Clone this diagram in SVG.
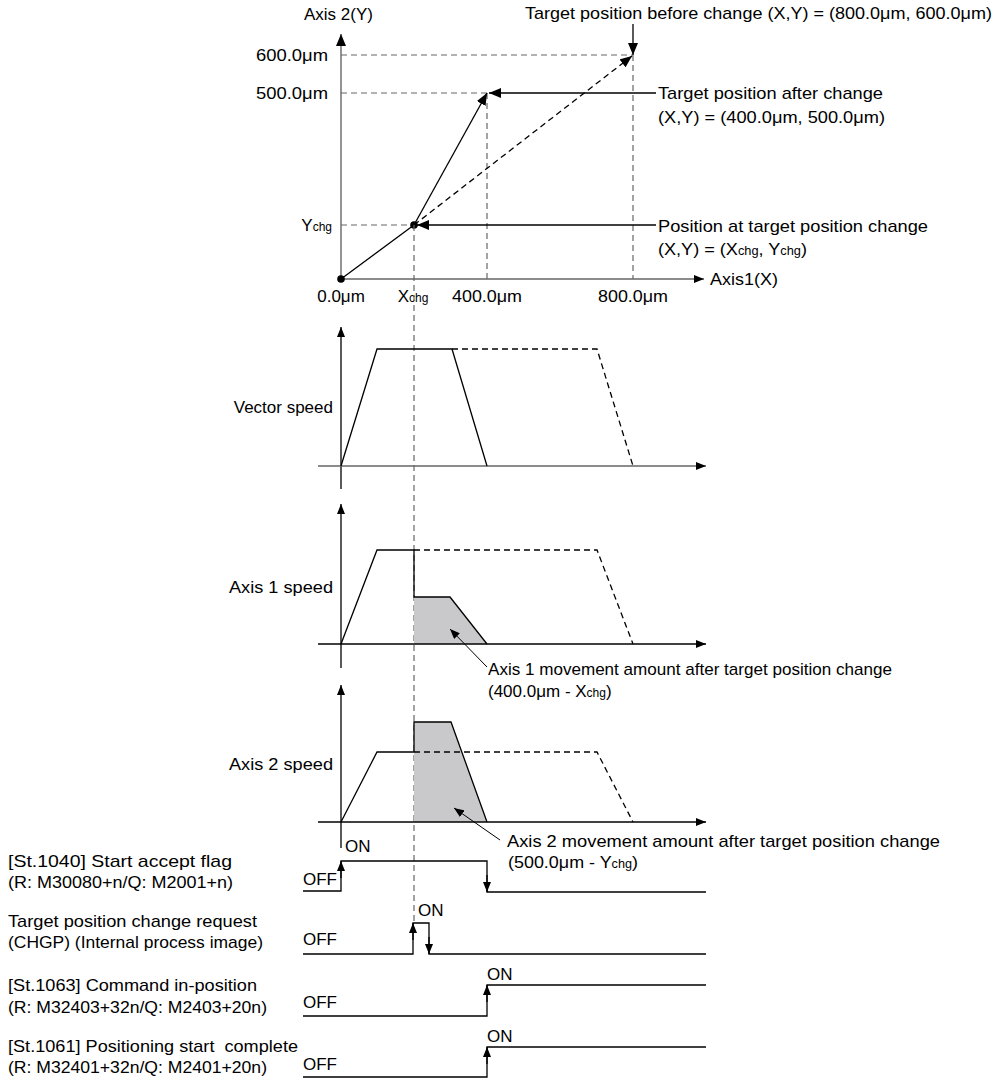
<svg xmlns="http://www.w3.org/2000/svg" width="998" height="1083" viewBox="0 0 998 1083">
<style>
text{font-family:"Liberation Sans",Arial,sans-serif;font-size:17px;fill:#000}
.r{text-anchor:end}
.m{text-anchor:middle}
.s{font-size:12px}
.ln{stroke:#000;stroke-width:1.3;fill:none}
.ax{stroke:#666;stroke-width:1.4;fill:none}
.axk{stroke:#000;stroke-width:1.3;fill:none}
.gd{stroke:#666;stroke-width:1.2;stroke-dasharray:6,4;fill:none}
.dd{stroke:#000;stroke-width:1.3;stroke-dasharray:6,4;fill:none}
.co{stroke:#000;stroke-width:1;fill:none}
.sh{fill:#c9c9cb;stroke:none}
</style>
<defs>
<marker id="ah" viewBox="0 0 12 10" refX="12" refY="5" markerWidth="12" markerHeight="10" markerUnits="userSpaceOnUse" orient="auto"><path d="M0,0 L12,5 L0,10 z" fill="#000"/></marker>
<marker id="as" viewBox="0 0 10 8" refX="10" refY="4" markerWidth="10" markerHeight="8" markerUnits="userSpaceOnUse" orient="auto"><path d="M0,0 L10,4 L0,8 z" fill="#000"/></marker>
</defs>

<g id="position-graph">
<line class="gd" x1="341" y1="55" x2="633" y2="55"/>
<line class="gd" x1="341" y1="93" x2="487" y2="93"/>
<line class="gd" x1="341" y1="225" x2="414" y2="225"/>
<line class="gd" x1="487" y1="93" x2="487" y2="279"/>
<line class="gd" x1="633" y1="55" x2="633" y2="279"/>
<line class="ax" x1="341" y1="279" x2="341" y2="34" marker-end="url(#ah)"/>
<line class="ax" x1="341" y1="279" x2="704" y2="279" marker-end="url(#as)"/>
<polyline class="ln" points="341,279 414,225"/>
<line class="ln" x1="414" y1="225" x2="487" y2="93" marker-end="url(#ah)"/>
<line class="dd" x1="414" y1="225" x2="632" y2="56" marker-end="url(#ah)"/>
<circle cx="341" cy="279" r="3.8" fill="#000"/>
<circle cx="414" cy="225" r="3.8" fill="#000"/>
<text x="304" y="20">Axis 2(Y)</text>
<text class="r" x="328" y="61" textLength="72" lengthAdjust="spacingAndGlyphs">600.0μm</text>
<text class="r" x="328" y="99" textLength="72" lengthAdjust="spacingAndGlyphs">500.0μm</text>
<text class="r" x="332" y="231">Y<tspan class="s">chg</tspan></text>
<text class="m" x="341" y="302">0.0μm</text>
<text class="m" x="413" y="302">X<tspan class="s">chg</tspan></text>
<text class="m" x="487" y="302" textLength="70" lengthAdjust="spacingAndGlyphs">400.0μm</text>
<text class="m" x="633" y="302" textLength="70" lengthAdjust="spacingAndGlyphs">800.0μm</text>
<text x="710" y="285" textLength="68" lengthAdjust="spacingAndGlyphs">Axis1(X)</text>
</g>

<g id="callouts-top">
<line class="ln" x1="633" y1="24" x2="633" y2="55" marker-end="url(#ah)"/>
<text x="525" y="19" textLength="467" lengthAdjust="spacingAndGlyphs">Target position before change (X,Y) = (800.0μm, 600.0μm)</text>
<line class="ln" x1="656" y1="93" x2="489" y2="93" marker-end="url(#ah)"/>
<text x="658" y="99" textLength="225" lengthAdjust="spacingAndGlyphs">Target position after change</text>
<text x="658" y="123" textLength="227" lengthAdjust="spacingAndGlyphs">(X,Y) = (400.0μm, 500.0μm)</text>
<line class="ln" x1="656" y1="225" x2="417" y2="225" marker-end="url(#ah)"/>
<text x="658" y="232" textLength="270" lengthAdjust="spacingAndGlyphs">Position at target position change</text>
<text x="658" y="255" textLength="149" lengthAdjust="spacingAndGlyphs">(X,Y) = (X<tspan class="s">chg</tspan>, Y<tspan class="s">chg</tspan>)</text>
</g>

<g id="connectors">
<line class="gd" x1="414" y1="225" x2="414" y2="923"/>
</g>

<g id="vector-speed">
<line class="axk" x1="341" y1="489" x2="341" y2="327" marker-end="url(#as)"/>
<line class="ax" x1="318" y1="466" x2="706" y2="466" marker-end="url(#as)"/>
<polyline class="ln" points="341,466 377,349 452,349 487,466"/>
<polyline class="dd" points="452,349 597,349 633,466"/>
<text class="r" x="333" y="413">Vector speed</text>
</g>

<g id="axis1-speed">
<polygon class="sh" points="414,597 450,597 487,644 414,644"/>
<line class="axk" x1="341" y1="668" x2="341" y2="504" marker-end="url(#as)"/>
<line class="axk" x1="318" y1="644" x2="706" y2="644" marker-end="url(#as)"/>
<polyline class="ln" points="341,644 377,550 414,550 414,597 450,597 487,644"/>
<polyline class="dd" points="414,550 597,550 633,644"/>
<text class="r" x="333" y="593" textLength="104" lengthAdjust="spacingAndGlyphs">Axis 1 speed</text>
<line class="co" x1="487" y1="667" x2="450" y2="629" marker-end="url(#as)"/>
<text x="488" y="675" textLength="404" lengthAdjust="spacingAndGlyphs">Axis 1 movement amount after target position change</text>
<text x="488" y="697">(400.0μm - X<tspan class="s">chg</tspan>)</text>
</g>

<g id="axis2-speed">
<polygon class="sh" points="414,722 451,722 487,822 414,822"/>
<line class="axk" x1="341" y1="848" x2="341" y2="685" marker-end="url(#as)"/>
<line class="axk" x1="318" y1="822" x2="706" y2="822" marker-end="url(#as)"/>
<polyline class="ln" points="341,822 377,752 414,752"/>
<polyline class="ln" points="414,752 414,722 451,722 487,822"/>
<polyline class="dd" points="414,752 597,752 633,822"/>
<text class="r" x="333" y="770" textLength="104" lengthAdjust="spacingAndGlyphs">Axis 2 speed</text>
<line class="co" x1="500" y1="840" x2="454" y2="808" marker-end="url(#as)"/>
<text x="507" y="847" textLength="433" lengthAdjust="spacingAndGlyphs">Axis 2 movement amount after target position change</text>
<text x="508" y="868" textLength="130" lengthAdjust="spacingAndGlyphs">(500.0μm - Y<tspan class="s">chg</tspan>)</text>
</g>

<g id="st1040">
<text x="8" y="867" textLength="224" lengthAdjust="spacingAndGlyphs">[St.1040] Start accept flag</text>
<text x="8" y="888" textLength="225" lengthAdjust="spacingAndGlyphs">(R: M30080+n/Q: M2001+n)</text>
<polyline class="ln" points="303,891 341,891 341,861 487,861 487,892 706,892"/>
<line class="ln" x1="341" y1="878" x2="341" y2="861" marker-end="url(#as)"/>
<line class="ln" x1="487" y1="875" x2="487" y2="892" marker-end="url(#as)"/>
<text x="345" y="852">ON</text>
<text x="303" y="885">OFF</text>
</g>

<g id="chgp">
<text x="8" y="927" textLength="249" lengthAdjust="spacingAndGlyphs">Target position change request</text>
<text x="8" y="948" textLength="255" lengthAdjust="spacingAndGlyphs">(CHGP) (Internal process image)</text>
<polyline class="ln" points="303,954 413,954 413,923 429,923 429,954 706,954"/>
<line class="ln" x1="413" y1="940" x2="413" y2="923" marker-end="url(#as)"/>
<line class="ln" x1="429" y1="937" x2="429" y2="954" marker-end="url(#as)"/>
<text x="418" y="916">ON</text>
<text x="303" y="945">OFF</text>
</g>

<g id="st1063">
<text x="8" y="991" textLength="249" lengthAdjust="spacingAndGlyphs">[St.1063] Command in-position</text>
<text x="8" y="1013" textLength="259" lengthAdjust="spacingAndGlyphs">(R: M32403+32n/Q: M2403+20n)</text>
<polyline class="ln" points="303,1016 487,1016 487,985 706,985"/>
<line class="ln" x1="487" y1="1002" x2="487" y2="985" marker-end="url(#as)"/>
<text x="487" y="980">ON</text>
<text x="303" y="1008">OFF</text>
</g>

<g id="st1061">
<text x="8" y="1052" xml:space="preserve" textLength="290" lengthAdjust="spacingAndGlyphs">[St.1061] Positioning start  complete</text>
<text x="8" y="1073" textLength="259" lengthAdjust="spacingAndGlyphs">(R: M32401+32n/Q: M2401+20n)</text>
<polyline class="ln" points="303,1077 487,1077 487,1047 706,1047"/>
<line class="ln" x1="487" y1="1064" x2="487" y2="1047" marker-end="url(#as)"/>
<text x="487" y="1042">ON</text>
<text x="303" y="1070">OFF</text>
</g>
</svg>
